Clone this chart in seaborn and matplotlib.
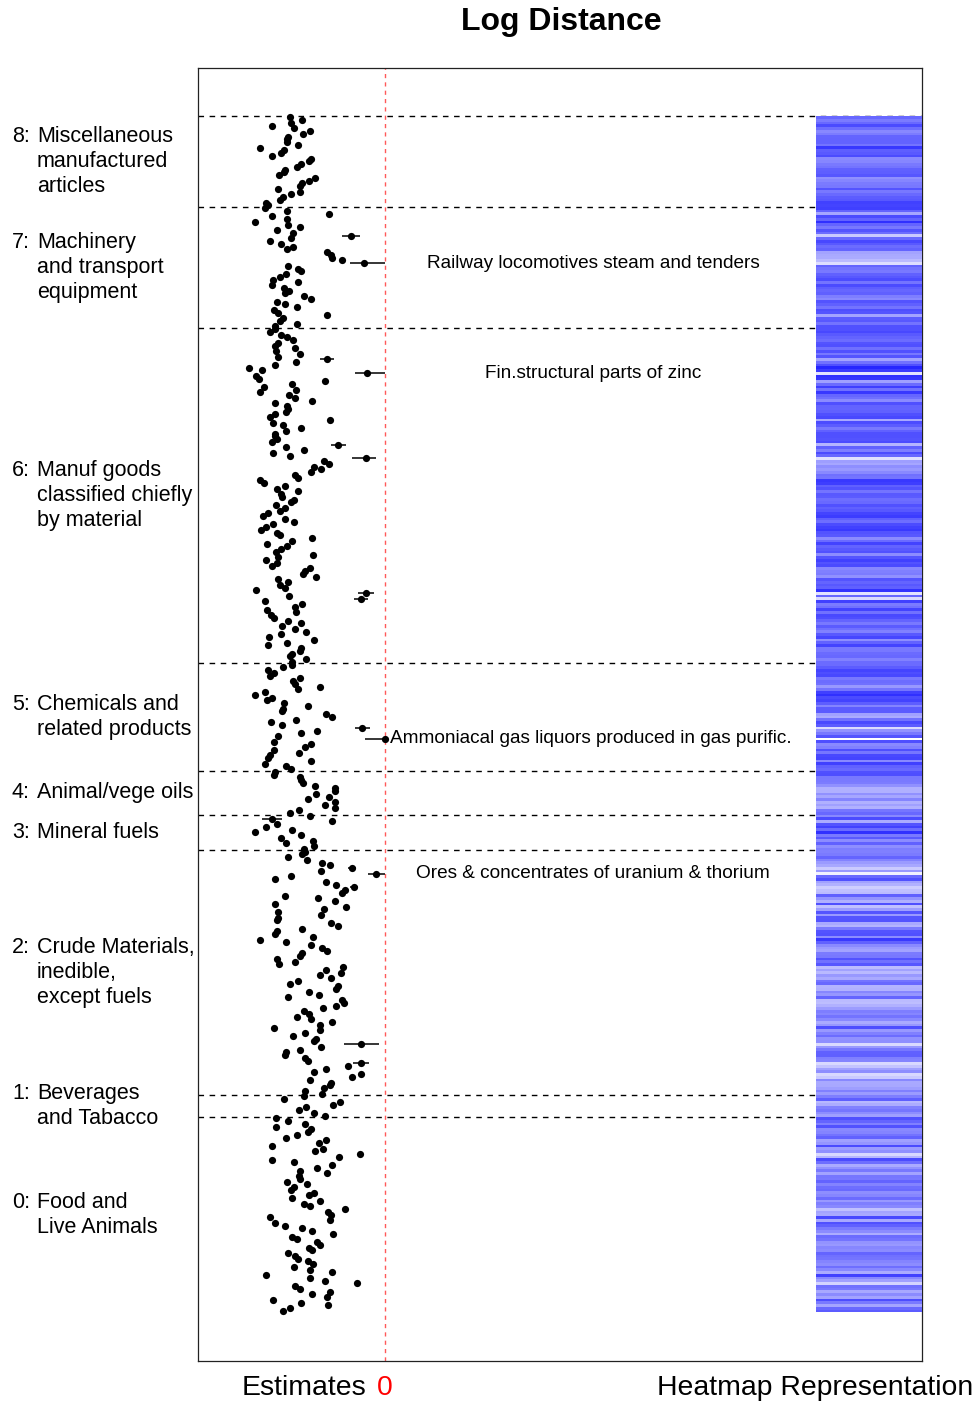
import numpy as np
import pandas as pd
import seaborn as sns
import matplotlib.pyplot as plt
from matplotlib.colors import LinearSegmentedColormap

# SITC sections, listed top to bottom as drawn
section_codes = ["8", "7", "6", "5", "4", "3", "2", "1", "0"]
section_names = [
    ["Miscellaneous", "manufactured", "articles"],
    ["Machinery", "and transport", "equipment"],
    ["Manuf goods", "classified chiefly", "by material"],
    ["Chemicals and", "related products"],
    ["Animal/vege oils"],
    ["Mineral fuels"],
    ["Crude Materials,", "inedible,", "except fuels"],
    ["Beverages", "and Tabacco"],
    ["Food and", "Live Animals"],
]

# log distance estimates per product
est_8 = [-0.95, -0.83, -0.94, -1.13, -0.91, -0.75, -0.82, -0.97, -0.98, -0.98,
         -0.87, -1.25, -1.01, -1.04, -1.13, -0.74, -0.76, -0.84, -0.88, -1.00,
         -1.01, -1.06, -0.70, -0.76, -0.83, -0.85, -1.07, -0.85, -0.94, -1.02,
         -1.05, -1.19, -1.17]
est_7 = [-1.20, -0.98, -0.56, -1.13, -0.98, -1.30, -0.97, -0.85, -1.08, -0.92,
         -0.34, -0.94, -1.15, -1.04, -0.92, -0.98, -0.58, -0.54, -0.53, -0.43,
         -0.21, -0.97, -0.87, -0.84, -0.99, -1.05, -1.12, -0.87, -1.13, -1.01,
         -0.96, -1.00, -0.81, -0.74, -1.08, -1.00, -0.88, -1.11, -1.07, -0.58,
         -1.02, -1.05, -0.88, -1.10]
est_6 = [-1.10, -1.15, -1.04, -0.98, -0.92, -1.07, -1.10, -0.90, -1.09, -0.85,
         -1.07, -0.58, -0.89, -1.10, -1.36, -1.23, -0.18, -1.29, -1.26, -0.60,
         -0.93, -1.21, -0.89, -1.25, -0.96, -0.90, -0.73, -1.10, -0.98, -0.97,
         -0.99, -1.10, -1.15, -0.55, -1.12, -1.02, -0.84, -0.99, -1.10, -1.10,
         -1.08, -1.13, -0.47, -0.99, -0.81, -1.12, -0.95, -0.19, -0.61, -0.56,
         -0.71, -0.64, -0.74, -0.90, -0.87, -1.25, -1.21, -1.00, -1.08, -0.87,
         -1.04, -1.03, -0.91, -0.94, -1.09, -1.00, -1.05, -1.17, -1.22, -1.00,
         -0.91, -1.12, -1.19, -1.24, -1.08, -1.05, -0.73, -0.93, -1.18, -0.98,
         -1.04, -1.09, -0.72, -1.07, -1.19, -1.08, -1.13, -0.75, -0.80, -0.82,
         -0.69, -1.07, -0.97, -1.05, -1.00, -1.29, -0.19, -0.96, -0.24, -1.20,
         -0.83, -0.90, -1.18, -0.89, -1.14, -1.11, -0.97, -0.84, -1.03, -0.90,
         -0.79, -1.04, -1.16, -0.71, -0.98, -1.17, -0.84, -0.85, -0.93, -0.95,
         -0.79, -0.93]
est_5 = [-0.93, -1.02, -1.17, -1.11, -1.15, -0.85, -0.92, -0.90, -0.65, -0.87,
         -1.20, -1.30, -1.13, -1.18, -1.01, -0.77, -1.02, -1.03, -0.59, -0.53,
         -0.89, -1.14, -1.03, -0.23, -0.68, -0.84, -1.07, 0.00, -1.11, -0.74,
         -0.80, -1.11, -0.86, -1.15, -1.17, -0.74, -1.20, -0.99, -0.94]
est_4 = [-1.10, -1.11, -0.85, -0.84, -0.82, -0.70, -0.50, -0.50, -0.69, -0.56,
         -0.77, -0.50, -0.60, -0.50, -0.86, -0.95]
est_3 = [-0.75, -1.13, -0.53, -1.08, -1.19, -0.93, -1.30, -0.84, -1.04, -0.72,
         -0.99, -0.71, -0.81]
est_2 = [-0.80, -0.83, -0.97, -0.78, -0.63, -0.55, -0.33, -0.64, -0.09, -0.94,
         -1.10, -0.59, -0.49, -0.31, -0.40, -0.43, -1.00, -0.67, -0.50, -1.10,
         -0.39, -0.61, -1.07, -0.64, -1.07, -1.08, -0.54, -0.47, -0.83, -1.08,
         -1.10, -0.72, -1.25, -0.99, -0.74, -0.63, -0.58, -0.83, -0.85, -1.08,
         -0.90, -1.06, -0.42, -0.59, -0.44, -0.65, -0.54, -0.87, -0.95, -0.47,
         -0.49, -0.76, -0.66, -0.97, -0.43, -0.41, -0.49, -0.62, -0.81, -0.76,
         -0.88, -0.74, -0.53, -0.65, -1.11, -0.65, -0.80, -0.92, -0.69, -0.71,
         -0.24, -0.64, -0.85, -0.99, -1.00, -0.80, -0.77, -0.24, -0.37, -0.59,
         -0.71, -0.24, -0.33, -0.75, -0.54, -0.55, -0.61, -0.80, -0.63]
est_1 = [-0.81, -1.01, -0.45, -0.52, -0.79, -0.86, -0.71, -0.60]
est_0 = [-1.09, -0.97, -0.80, -1.09, -0.74, -0.77, -0.88, -0.99, -0.59, -0.66,
         -1.13, -0.62, -0.70, -0.25, -0.46, -1.13, -0.91, -0.53, -0.68, -0.85,
         -0.58, -0.86, -0.85, -0.98, -0.78, -0.91, -0.94, -0.71, -0.76, -0.93,
         -0.65, -0.81, -0.75, -0.40, -0.57, -0.54, -1.15, -0.55, -1.10, -1.00,
         -0.83, -0.73, -0.52, -0.93, -0.88, -0.68, -0.65, -0.76, -0.73, -0.97,
         -0.90, -0.87, -0.77, -0.72, -0.91, -0.75, -0.53, -1.19, -0.75, -0.60,
         -0.28, -0.90, -0.85, -0.55, -0.73, -0.58, -1.12, -0.84, -0.57, -0.95,
         -1.02]

# visible confidence intervals (section, index within section, lower, upper width)
err_section = ["7", "7", "6", "6", "6", "6", "6", "6", "5", "5", "3",
               "2", "2", "2", "2", "2", "2"]
err_index = [10, 20, 11, 16, 42, 47, 96, 98, 23, 27, 1, 6, 8, 13, 42, 70, 77]
err_lower = [0.09, 0.14, 0.07, 0.12, 0.075, 0.14, 0.08, 0.07, 0.075, 0.20, 0.10,
             0.04, 0.08, 0.04, 0.03, 0.175, 0.08]
err_upper = [0.09, 0.21, 0.07, 0.18, 0.075, 0.10, 0.08, 0.07, 0.075, 0.0, 0.10,
             0.04, 0.09, 0.04, 0.03, 0.175, 0.08]

# labelled products
note_section = ["7", "6", "5", "2"]
note_index = [20, 16, 27, 8]
note_text = ["Railway locomotives steam and tenders",
             "Fin.structural parts of zinc",
             "Ammoniacal gas liquors produced in gas purific.",
             "Ores & concentrates of uranium & thorium"]

all_est = [est_8, est_7, est_6, est_5, est_4, est_3, est_2, est_1, est_0]

sns.set_theme(style="white")
plt.rcParams["font.family"] = ["Liberation Sans", "DejaVu Sans"]
plt.rcParams["text.color"] = "black"

counts = [len(v) for v in all_est]
starts = dict(zip(section_codes, np.cumsum([0] + counts[:-1])))
df = pd.DataFrame({
    "estimate": np.concatenate(all_est),
    "section": np.repeat(section_codes, counts),
})
df["row"] = np.arange(len(df))
n = len(df)

W, H = 978, 1405
fig = plt.figure(figsize=(W / 100, H / 100), dpi=100)
ax = fig.add_axes([198 / W, 1 - 1361 / H, 724 / W, 1293 / H])

sns.scatterplot(data=df, x="estimate", y="row", color="black", s=27,
                linewidth=0, ax=ax, zorder=4, legend=False)

# error bars
e_rows = [starts[s] + i for s, i in zip(err_section, err_index)]
e_x = df["estimate"].values[e_rows]
ax.errorbar(e_x, e_rows, xerr=[err_lower, err_upper], fmt="none",
            ecolor="black", elinewidth=1.1, capsize=0, zorder=3)

top_pad, bot_pad = 18.0, 18.2
ax.set_ylim(n - 1 + bot_pad, -top_pad)
ax.set_xlim(-1.87, 5.37)

# section separators
for s in section_codes:
    ax.axhline(starts[s] - 0.5, color="black", ls=(0, (4, 4)), lw=1.0, zorder=2)
ax.axvline(0, color="#ff5a5a", ls=(0, (3, 3)), lw=1.0, zorder=1)

ax.set_xticks([])
ax.set_yticks([])
ax.set_xlabel("")
ax.set_ylabel("")
for sp in ax.spines.values():
    sp.set_color("#222222")
    sp.set_linewidth(0.9)

# notes
for s, i, t in zip(note_section, note_index, note_text):
    r = starts[s] + i
    x = df["estimate"].values[r]
    if x > -0.05:
        ax.text(x + 0.05, r, t, ha="left", va="center", fontsize=13.7, zorder=5)
    else:
        ax.text(2.08, r, t, ha="center", va="center", fontsize=13.7, zorder=5)

# section labels on the left
for s, c, lines in zip(section_codes, counts, section_names):
    mid = starts[s] - 0.5 + c / 2
    k = len(lines)
    for j, line in enumerate(lines):
        off = ((k - 1) / 2 - j) * 25
        ax.annotate(line, xy=(37, mid), xycoords=("figure pixels", "data"),
                    xytext=(0, off), textcoords="offset pixels",
                    ha="left", va="center", fontsize=15.5, annotation_clip=False)
    ax.annotate(s + ":", xy=(12, mid), xycoords=("figure pixels", "data"),
                xytext=(0, (k - 1) / 2 * 25), textcoords="offset pixels",
                ha="left", va="center", fontsize=15.5, annotation_clip=False)

# heatmap strip
y0, y1 = ax.get_ylim()
def yfrac(r):
    return (1 - 1361 / H) + (1293 / H) * (y0 - r) / (y0 - y1)
hb, ht = yfrac(n - 0.5), yfrac(-0.5)
hax = fig.add_axes([816 / W, hb, 106 / W, ht - hb])
blue_white = LinearSegmentedColormap.from_list("bw", ["#0000ff", "#ffffff"])
sns.heatmap(df[["estimate"]].values, ax=hax, cmap=blue_white,
            vmin=-1.6, vmax=0, cbar=False,
            xticklabels=False, yticklabels=False)
hax.set_zorder(5)

fig.text(561 / W, 1 - 22 / H, "Log Distance", fontsize=23, weight="bold",
         ha="center", va="center")
fig.text(366 / W, 1 - 1388 / H, "Estimates", fontsize=20.4, ha="right", va="center")
fig.text(385 / W, 1 - 1388 / H, "0", fontsize=20.4, color="red", ha="center", va="center")
fig.text(815 / W, 1 - 1388 / H, "Heatmap Representation", fontsize=20.4,
         ha="center", va="center")

fig.savefig("out.png", dpi=100)
